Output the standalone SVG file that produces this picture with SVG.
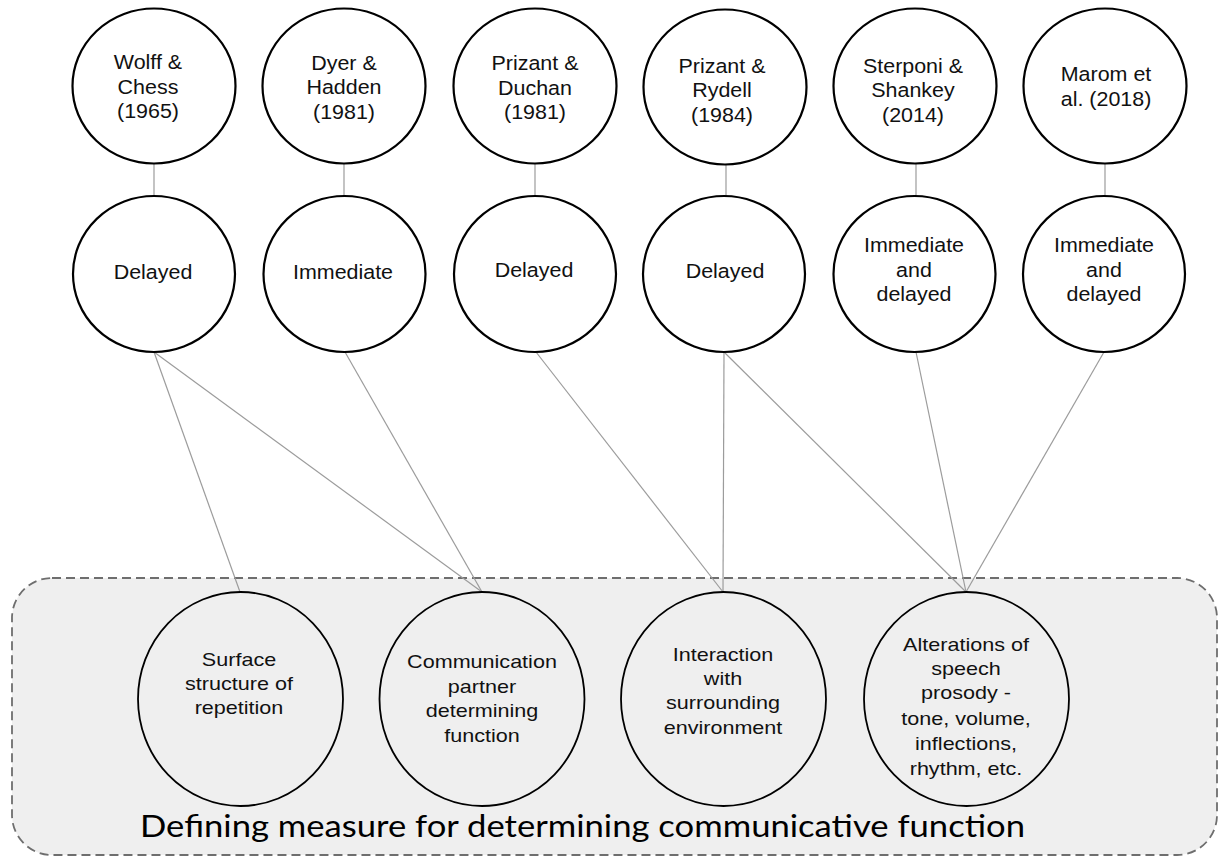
<svg xmlns="http://www.w3.org/2000/svg" width="1218" height="857" viewBox="0 0 1218 857">
  <style>
    .c { fill: #ffffff; stroke: #000000; stroke-width: 2.2; }
    .b { fill: none; stroke: #000000; stroke-width: 1.8; }
    .t { font-family: "Liberation Sans", Arial, sans-serif; font-size: 19.5px; fill: #111111; text-anchor: middle; }
    .s { font-family: "Liberation Sans", Arial, sans-serif; font-size: 18.6px; fill: #111111; text-anchor: middle; }
    .conn line { stroke: #9c9c9c; stroke-width: 1.2; }
    .title { font-family: Lato, "Open Sans", sans-serif; font-size: 30px; fill: #000000; }
  </style>
  <rect width="1218" height="857" fill="#ffffff"/>

  <g id="group-box">
    <rect x="12" y="578" width="1205" height="277" rx="40" ry="40" fill="#efefef" stroke="#6e6e6e" stroke-width="1.8" stroke-dasharray="9 5"/>
    <text class="title" x="140" y="837" textLength="885" lengthAdjust="spacingAndGlyphs">Defining measure for determining communicative function</text>
  </g>

  <g id="connectors" class="conn">
    <line x1="154" y1="163" x2="154" y2="196"/>
    <line x1="344" y1="163" x2="344" y2="196"/>
    <line x1="535" y1="163" x2="535" y2="196"/>
    <line x1="726" y1="163" x2="726" y2="196"/>
    <line x1="916" y1="163" x2="916" y2="196"/>
    <line x1="1105" y1="163" x2="1105" y2="196"/>
    <line x1="154" y1="352" x2="240" y2="592"/>
    <line x1="154" y1="352" x2="482" y2="592"/>
    <line x1="345" y1="352" x2="482" y2="592"/>
    <line x1="536" y1="352" x2="723" y2="592"/>
    <line x1="724" y1="352" x2="723" y2="592"/>
    <line x1="724" y1="352" x2="966" y2="592"/>
    <line x1="916" y1="352" x2="966" y2="592"/>
    <line x1="1104" y1="352" x2="966" y2="592"/>
  </g>

  <g id="author-wolff">
    <ellipse class="c" cx="154" cy="86" rx="81.5" ry="77.5"/>
    <text class="t" transform="translate(148 0) scale(1.1 1)"><tspan x="0" y="69.5">Wolff &amp;</tspan><tspan x="0" y="94">Chess</tspan><tspan x="0" y="118.5">(1965)</tspan></text>
  </g>
  <g id="author-dyer">
    <ellipse class="c" cx="344" cy="86" rx="81.5" ry="77.5"/>
    <text class="t" transform="translate(344 0) scale(1.1 1)"><tspan x="0" y="70">Dyer &amp;</tspan><tspan x="0" y="94.5">Hadden</tspan><tspan x="0" y="119">(1981)</tspan></text>
  </g>
  <g id="author-duchan">
    <ellipse class="c" cx="535" cy="86" rx="81.5" ry="77.5"/>
    <text class="t" transform="translate(535 0) scale(1.1 1)"><tspan x="0" y="70">Prizant &amp;</tspan><tspan x="0" y="95">Duchan</tspan><tspan x="0" y="119">(1981)</tspan></text>
  </g>
  <g id="author-rydell">
    <ellipse class="c" cx="725" cy="87" rx="81.5" ry="77.5"/>
    <text class="t" transform="translate(722 0) scale(1.1 1)"><tspan x="0" y="73">Prizant &amp;</tspan><tspan x="0" y="97.5">Rydell</tspan><tspan x="0" y="122">(1984)</tspan></text>
  </g>
  <g id="author-sterponi">
    <ellipse class="c" cx="915" cy="86" rx="81.5" ry="77.5"/>
    <text class="t" transform="translate(913 0) scale(1.1 1)"><tspan x="0" y="73">Sterponi &amp;</tspan><tspan x="0" y="97">Shankey</tspan><tspan x="0" y="122">(2014)</tspan></text>
  </g>
  <g id="author-marom">
    <ellipse class="c" cx="1105" cy="86" rx="81.5" ry="77.5"/>
    <text class="t" transform="translate(1106 0) scale(1.1 1)"><tspan x="0" y="81">Marom et</tspan><tspan x="0" y="106">al. (2018)</tspan></text>
  </g>

  <g id="type-wolff">
    <ellipse class="c" cx="154" cy="274" rx="81" ry="78"/>
    <text class="t" transform="translate(153 0) scale(1.1 1)"><tspan x="0" y="279">Delayed</tspan></text>
  </g>
  <g id="type-dyer">
    <ellipse class="c" cx="344.5" cy="274" rx="81" ry="78"/>
    <text class="t" transform="translate(343 0) scale(1.1 1)"><tspan x="0" y="279">Immediate</tspan></text>
  </g>
  <g id="type-duchan">
    <ellipse class="c" cx="535" cy="274" rx="81" ry="78"/>
    <text class="t" transform="translate(534 0) scale(1.1 1)"><tspan x="0" y="277">Delayed</tspan></text>
  </g>
  <g id="type-rydell">
    <ellipse class="c" cx="724" cy="274" rx="81" ry="78"/>
    <text class="t" transform="translate(725 0) scale(1.1 1)"><tspan x="0" y="278">Delayed</tspan></text>
  </g>
  <g id="type-sterponi">
    <ellipse class="c" cx="914.5" cy="274" rx="81" ry="78"/>
    <text class="t" transform="translate(914 0) scale(1.1 1)"><tspan x="0" y="252">Immediate</tspan><tspan x="0" y="277">and</tspan><tspan x="0" y="301">delayed</tspan></text>
  </g>
  <g id="type-marom">
    <ellipse class="c" cx="1104" cy="274" rx="81" ry="78"/>
    <text class="t" transform="translate(1104 0) scale(1.1 1)"><tspan x="0" y="252">Immediate</tspan><tspan x="0" y="277">and</tspan><tspan x="0" y="301">delayed</tspan></text>
  </g>

  <g id="measure-surface">
    <ellipse class="b" cx="240.5" cy="699" rx="102.5" ry="107"/>
    <text class="s" transform="translate(239 0) scale(1.16 1)"><tspan x="0" y="666">Surface</tspan><tspan x="0" y="690">structure of</tspan><tspan x="0" y="714">repetition</tspan></text>
  </g>
  <g id="measure-partner">
    <ellipse class="b" cx="482" cy="699" rx="102.5" ry="107"/>
    <text class="s" transform="translate(482 0) scale(1.16 1)"><tspan x="0" y="668">Communication</tspan><tspan x="0" y="693">partner</tspan><tspan x="0" y="717">determining</tspan><tspan x="0" y="742">function</tspan></text>
  </g>
  <g id="measure-interaction">
    <ellipse class="b" cx="723.5" cy="699" rx="102.5" ry="107"/>
    <text class="s" transform="translate(723 0) scale(1.16 1)"><tspan x="0" y="661">Interaction</tspan><tspan x="0" y="685">with</tspan><tspan x="0" y="709">surrounding</tspan><tspan x="0" y="734">environment</tspan></text>
  </g>
  <g id="measure-prosody">
    <ellipse class="b" cx="966.5" cy="699" rx="102.5" ry="107"/>
    <text class="s" transform="translate(966 0) scale(1.16 1)"><tspan x="0" y="651">Alterations of</tspan><tspan x="0" y="675">speech</tspan><tspan x="0" y="699">prosody -</tspan><tspan x="0" y="725">tone, volume,</tspan><tspan x="0" y="750">inflections,</tspan><tspan x="0" y="775">rhythm, etc.</tspan></text>
  </g>
</svg>
